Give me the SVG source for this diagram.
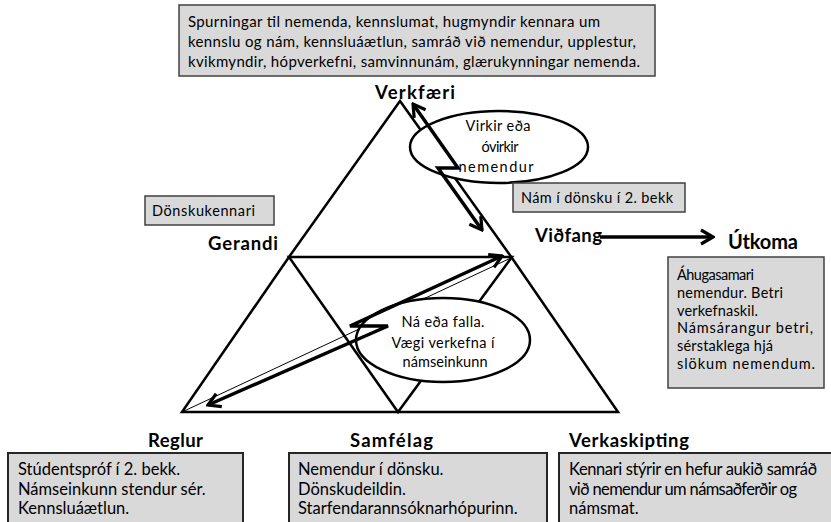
<svg xmlns="http://www.w3.org/2000/svg" width="831" height="522" viewBox="0 0 831 522">
<defs>
<style>
.box{fill:#d9d9d9;stroke:#404040;stroke-width:1.5}
.bbox{fill:#d9d9d9;stroke:#262626;stroke-width:2}
.t{font-family:Lato,'Liberation Sans',sans-serif;fill:#000}
.s14{font-size:14.5px}
.s15{font-size:15px}
.s16{font-size:16.5px}
.lbl{font-family:Lato,'Liberation Sans',sans-serif;font-weight:bold;font-size:18.5px;fill:#000}
.tri{fill:none;stroke:#000;stroke-width:2.5;stroke-linejoin:miter}
.thin{fill:none;stroke:#000;stroke-width:1}
.arr{fill:none;stroke:#000;stroke-width:3.5;stroke-linejoin:miter}
.ell{fill:#fff;stroke:#000;stroke-width:2.5}
</style>
<marker id="ah" markerUnits="userSpaceOnUse" viewBox="0 0 16 18" refX="14" refY="9" markerWidth="16" markerHeight="18" orient="auto-start-reverse"><path d="M2,2 L14,9 L2,16" fill="none" stroke="#000" stroke-width="3.2"/></marker>
</defs>
<rect width="831" height="522" fill="#fff"/>

<g id="triangle">
<path class="tri" d="M400,101 L289,257 L182,412 L618,412 L512,258 Z"/>
<path class="tri" d="M289,257 L512,257 L398,412 Z"/>
<line class="thin" x1="182" y1="412" x2="513" y2="257"/>
</g>

<g id="ellipse-virkir">
<ellipse class="ell" cx="499" cy="147" rx="89" ry="36"/>
<text class="t s14" text-anchor="middle" x="498" y="131" textLength="65" lengthAdjust="spacing">Virkir eða</text>
<text class="t s14" text-anchor="middle" x="500" y="152" textLength="37" lengthAdjust="spacing">óvirkir</text>
<text class="t s14" text-anchor="middle" x="496" y="172" textLength="75" lengthAdjust="spacing">nemendur</text>
</g>

<g id="ellipse-na">
<ellipse class="ell" cx="443" cy="340" rx="87" ry="42"/>
<text class="t s14" text-anchor="middle" x="443" y="327" textLength="83" lengthAdjust="spacing">Ná eða falla.</text>
<text class="t s14" text-anchor="middle" x="443" y="348" textLength="103" lengthAdjust="spacing">Vægi verkefna í</text>
<text class="t s14" text-anchor="middle" x="445" y="367" textLength="85" lengthAdjust="spacing">námseinkunn</text>
</g>

<g id="connectors">
<path class="arr" d="M413,104 L458,168 L438,168 L482,230" marker-start="url(#ah)" marker-end="url(#ah)"/>
<path class="arr" d="M502,256 L350,326 L388,326 L208,405" marker-start="url(#ah)" marker-end="url(#ah)"/>
<path class="arr" d="M600,237 L713,237" marker-end="url(#ah)"/>
</g>

<g id="verkfaeri-box">
<rect class="box" x="179" y="5" width="476" height="71"/>
<text class="t s15" x="188" y="27" textLength="412" lengthAdjust="spacing">Spurningar til nemenda, kennslumat, hugmyndir kennara um</text>
<text class="t s15" x="188" y="47" textLength="448" lengthAdjust="spacing">kennslu og nám, kennsluáætlun, samráð við nemendur, upplestur,</text>
<text class="t s15" x="188" y="67" textLength="452" lengthAdjust="spacing">kvikmyndir, hópverkefni, samvinnunám, glærukynningar nemenda.</text>
</g>

<g id="verkfaeri">
<text class="lbl" x="375" y="99" textLength="80" lengthAdjust="spacing">Verkfæri</text>
</g>

<g id="gerandi">
<rect class="box" x="145" y="196" width="129" height="29"/>
<text class="t s14" x="152" y="216" textLength="103" lengthAdjust="spacing">Dönskukennari</text>
<text class="lbl" x="208" y="250" textLength="70" lengthAdjust="spacing">Gerandi</text>
</g>

<g id="vidfang">
<rect class="box" x="513" y="183" width="172" height="29"/>
<text class="t s14" x="521" y="203" textLength="152" lengthAdjust="spacing">Nám í dönsku í 2. bekk</text>
<text class="lbl" x="535" y="242" textLength="67" lengthAdjust="spacing">Viðfang</text>
</g>

<g id="utkoma">
<text class="lbl" x="728" y="249" textLength="70" lengthAdjust="spacing" style="font-size:20px">Útkoma</text>
<rect class="box" x="668" y="257" width="156" height="131"/>
<text class="t s14" x="677" y="280" textLength="77" lengthAdjust="spacing">Áhugasamari</text>
<text class="t s14" x="677" y="298" textLength="106" lengthAdjust="spacing">nemendur. Betri</text>
<text class="t s14" x="677" y="316" textLength="81" lengthAdjust="spacing">verkefnaskil.</text>
<text class="t s14" x="677" y="333" textLength="136" lengthAdjust="spacing">Námsárangur betri,</text>
<text class="t s14" x="677" y="351" textLength="96" lengthAdjust="spacing">sérstaklega hjá</text>
<text class="t s14" x="677" y="369" textLength="138" lengthAdjust="spacing">slökum nemendum.</text>
</g>

<g id="reglur">
<text class="lbl" x="148" y="447" textLength="55" lengthAdjust="spacing">Reglur</text>
<rect class="bbox" x="8" y="453" width="235" height="80"/>
<text class="t s16" x="18" y="475">Stúdentspróf í 2. bekk.</text>
<text class="t s16" x="18" y="495">Námseinkunn stendur sér.</text>
<text class="t s16" x="18" y="514">Kennsluáætlun.</text>
</g>

<g id="samfelag">
<text class="lbl" x="350" y="447" textLength="83" lengthAdjust="spacing">Samfélag</text>
<rect class="bbox" x="289" y="453" width="258" height="80"/>
<text class="t s16" x="298" y="475">Nemendur í dönsku.</text>
<text class="t s16" x="298" y="495">Dönskudeildin.</text>
<text class="t s16" x="298" y="514">Starfendarannsóknarhópurinn.</text>
</g>

<g id="verkaskipting">
<text class="lbl" x="569" y="447" textLength="120" lengthAdjust="spacing">Verkaskipting</text>
<rect class="bbox" x="559" y="453" width="290" height="80"/>
<text class="t s16" x="569" y="475" textLength="248" lengthAdjust="spacing">Kennari stýrir en hefur aukið samráð</text>
<text class="t s16" x="569" y="495" textLength="228" lengthAdjust="spacing">við nemendur um námsaðferðir og</text>
<text class="t s16" x="569" y="514">námsmat.</text>
</g>
</svg>
